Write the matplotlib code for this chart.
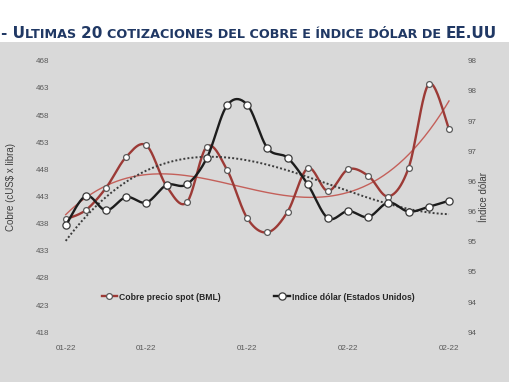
import numpy as np
import matplotlib
matplotlib.use("Agg")
import matplotlib.pyplot as plt
from matplotlib.lines import Line2D
from matplotlib.patches import Rectangle

# ---------------- data ----------------
copper = [438.8, 440.5, 444.6, 450.3, 452.4, 444.9, 441.9, 452.2, 447.9, 439.0,
          436.4, 440.2, 448.2, 444.0, 448.0, 446.8, 443.0, 448.3, 463.7, 455.4]
dollar = [95.27, 95.76, 95.52, 95.74, 95.65, 95.94, 95.95, 96.39, 97.26, 97.27,
          96.55, 96.39, 95.95, 95.39, 95.51, 95.41, 95.65, 95.50, 95.58, 95.68]
x_tick_pos = [0, 4, 9, 14, 19]
x_tick_labels = ["01-22", "01-22", "01-22", "02-22", "02-22"]
left_ticks = [418, 423, 428, 433, 438, 443, 448, 453, 458, 463, 468]
right_ticks = [93.5, 94.0, 94.5, 95.0, 95.5, 96.0, 96.5, 97.0, 97.5, 98.0]
right_tick_labels = ["94", "94", "95", "95", "96", "96", "97", "97", "98", "98"]
title_parts = [("- U", "big"), ("LTIMAS ", "small"), ("20 ", "big"),
               ("COTIZACIONES DEL COBRE E ÍNDICE DÓLAR DE ", "small"), ("EE.UU", "big")]
label_copper = "Cobre precio spot (BML)"
label_dollar = "Indice dólar (Estados Unidos)"
ylabel_left = "Cobre (cUS$ x libra)"
ylabel_right = "Índice dólar"

# ---------------- helpers ----------------
def smooth(xs, ys, n=24):
    P = np.column_stack([xs, ys]).astype(float)
    out = []
    m = len(P)
    t = np.linspace(0, 1, n)
    for i in range(m - 1):
        p0 = P[i - 1] if i > 0 else P[i]
        p1 = P[i]
        p2 = P[i + 1]
        p3 = P[i + 2] if i + 2 < m else P[i + 1]
        c1 = p1 + (p2 - p0) / 6.0
        c2 = p2 - (p3 - p1) / 6.0
        seg = ((1 - t) ** 3)[:, None] * p1 + (3 * (1 - t) ** 2 * t)[:, None] * c1 \
            + (3 * (1 - t) * t ** 2)[:, None] * c2 + (t ** 3)[:, None] * p2
        out.append(seg if i == 0 else seg[1:])
    s = np.vstack(out)
    return s[:, 0], s[:, 1]

W, H = 510, 382
fig = plt.figure(figsize=(W / 100, H / 100), dpi=100)
BG = "#d9d9d9"
fig.patch.set_facecolor(BG)
fig.patches.append(Rectangle((0, (H - 42) / H), 1, 42 / H, transform=fig.transFigure,
                             facecolor="white", edgecolor="none", zorder=0))

# axes placement in pixels
L_px, R_px = 55.0, 459.7
T_px, B_px = 60.7, 332.3
ax = fig.add_axes([L_px / W, (H - B_px) / H, (R_px - L_px) / W, (B_px - T_px) / H])
ax.set_facecolor("none")
ax2 = ax.twinx()
ax2.set_facecolor("none")

x = np.arange(len(copper))
xs = np.linspace(0, len(copper) - 1, 300)

RED = "#9c3a36"
REDT = "#c4605a"
BLK = "#1c1c1c"

# copper
cx, cy = smooth(x, copper)
ax.plot(cx, cy, color=RED, lw=1.7, zorder=3, solid_capstyle="round")
ax.plot(x, copper, ls="none", marker="o", ms=4.2, mfc="white", mec="#5a5a5a",
        mew=0.9, zorder=4)
pc = np.polyfit(x, copper, 3)
ax.plot(xs, np.polyval(pc, xs), color=REDT, lw=1.0, zorder=2)

# dollar
dx, dy = smooth(x, dollar)
pd_ = np.polyfit(x, dollar, 3)
ax2.plot(xs, np.polyval(pd_, xs), color="#3c3c3c", lw=1.4, ls=(0, (1, 1.1)), zorder=2)
ax2.plot(dx, dy, color=BLK, lw=1.7, zorder=3, solid_capstyle="round")
ax2.plot(x, dollar, ls="none", marker="o", ms=5.2, mfc="white", mec="#3a3a3a",
         mew=0.9, zorder=4)

ax.set_xlim(-0.53, len(copper) - 1 + 0.53)
ax.set_ylim(418, 468)
ax2.set_ylim(93.5, 98)

tick_font = dict(family=["Liberation Sans", "DejaVu Sans"], size=5.8, color="#595959")
ax.set_yticks(left_ticks)
ax.set_yticklabels([str(v) for v in left_ticks], **tick_font)
ax2.set_yticks(right_ticks)
ax2.set_yticklabels(right_tick_labels, **tick_font)
ax.set_xticks(x_tick_pos)
ax.set_xticklabels(x_tick_labels, **tick_font)

ax.tick_params(axis="y", length=0, pad=4)
ax2.tick_params(axis="y", length=0, pad=6)
ax.tick_params(axis="x", length=0, pad=9)
for a in (ax, ax2):
    for s in a.spines.values():
        s.set_visible(False)

lab_font = dict(family=["Liberation Sans", "DejaVu Sans"], size=7, color="#404040")
fig.text(11 / W, 1 - 187 / H, ylabel_left, rotation=90, ha="center", va="center", **lab_font)
fig.text(484 / W, 1 - 197 / H, ylabel_right, rotation=90, ha="center", va="center", **lab_font)

# legend
handles = [Line2D([], [], color=RED, lw=1.7, marker="o", ms=4.2, mfc="white", mec="#5a5a5a", mew=0.9),
           Line2D([], [], color=BLK, lw=1.7, marker="o", ms=5.2, mfc="white", mec="#3a3a3a", mew=0.9)]
leg = ax.legend(handles, [label_copper, label_dollar], loc="center",
                bbox_to_anchor=((258 - L_px) / (R_px - L_px), (B_px - 297) / (B_px - T_px)),
                ncol=2, frameon=False, handlelength=1.8, handletextpad=0.25,
                columnspacing=6.2, borderpad=0,
                prop=dict(family=["Liberation Sans", "DejaVu Sans"], size=6.2, weight="bold"))
for t in leg.get_texts():
    t.set_color("#262626")

# title with small caps
fig.canvas.draw()
renderer = fig.canvas.get_renderer()
xpos = 1.0
NAVY = "#203864"
for txt, kind in title_parts:
    size = 11.0 if kind == "big" else 9.2
    t = fig.text(xpos / W, 1 - 38 / H, txt, ha="left", va="baseline", color=NAVY,
                 fontsize=size, fontweight="bold", family="DejaVu Sans")
    bb = t.get_window_extent(renderer)
    xpos += bb.width

fig.savefig("out.png", dpi=100, facecolor=fig.get_facecolor())
